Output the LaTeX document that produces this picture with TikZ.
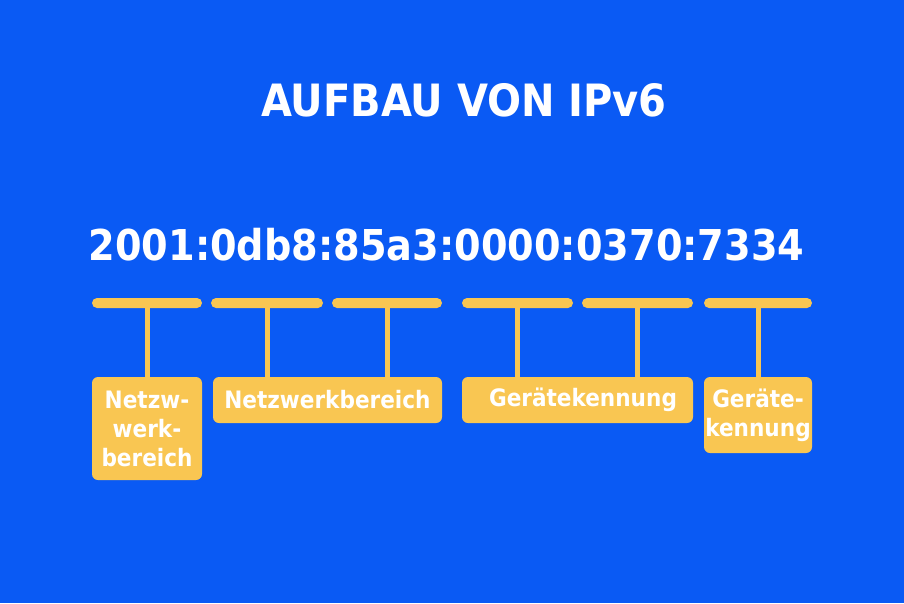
\documentclass[tikz,border=0pt]{standalone}
\usepackage{fontspec}
\setmainfont{DejaVu Sans Condensed}
\usetikzlibrary{positioning}
\definecolor{ipblue}{HTML}{0A5AF4}
\definecolor{ipgold}{HTML}{F9C652}

\begin{document}
\begin{tikzpicture}
[x=1pt,y=-1pt,
 every node/.style={inner sep=0pt,outer sep=0pt,text=white,font=\bfseries},
 bar/.style={rectangle,fill=ipgold,rounded corners=5pt,minimum height=10pt},
 lab/.style={rectangle,fill=ipgold,rounded corners=6pt,align=center,font=\bfseries\fontsize{24}{29}\selectfont},
 stem/.style={draw=ipgold,line width=5pt}]
\fill[ipblue] (0,0) rectangle (904,603);
\useasboundingbox (0,0) rectangle (904,603);

\node[anchor=base,font=\bfseries\fontsize{44.5}{52}\selectfont] (title) at (464,116) {AUFBAU VON IPv6};
\node[anchor=base,font=\bfseries\fontsize{42.5}{50}\selectfont] (addr) at (446.5,260) {2001:0db8:85a3:0000:0370:7334};

\node[bar,minimum width=110pt] (b1) at (147,303)   {};
\node[bar,minimum width=112pt] (b2) at (267,303)   {};
\node[bar,minimum width=110pt] (b3) at (387,303)   {};
\node[bar,minimum width=111pt] (b4) at (517.5,303) {};
\node[bar,minimum width=111pt] (b5) at (637.5,303) {};
\node[bar,minimum width=108pt] (b6) at (758,303)   {};

\node[lab,minimum width=110pt,minimum height=103pt] (net1) at (147,428.5) {Netzw-\\werk-\\bereich};
\node[lab,minimum width=229pt,minimum height=46pt]  (net2) at (327.5,400) {Netzwerkbereich};
\node[lab,minimum width=231pt,minimum height=46pt]  (dev1) at (577.5,400) {\hspace{11pt}Gerätekennung};
\node[lab,minimum width=108pt,minimum height=76pt]  (dev2) at (758,415)   {Geräte-\\kennung};

\path[stem] (b1.south) -- (b1.south |- net1.north);
\path[stem] (b2.south) -- (b2.south |- net2.north);
\path[stem] (b3.south) -- (b3.south |- net2.north);
\path[stem] (b4.south) -- (b4.south |- dev1.north);
\path[stem] (b5.south) -- (b5.south |- dev1.north);
\path[stem] (b6.south) -- (b6.south |- dev2.north);
\end{tikzpicture}
\end{document}
